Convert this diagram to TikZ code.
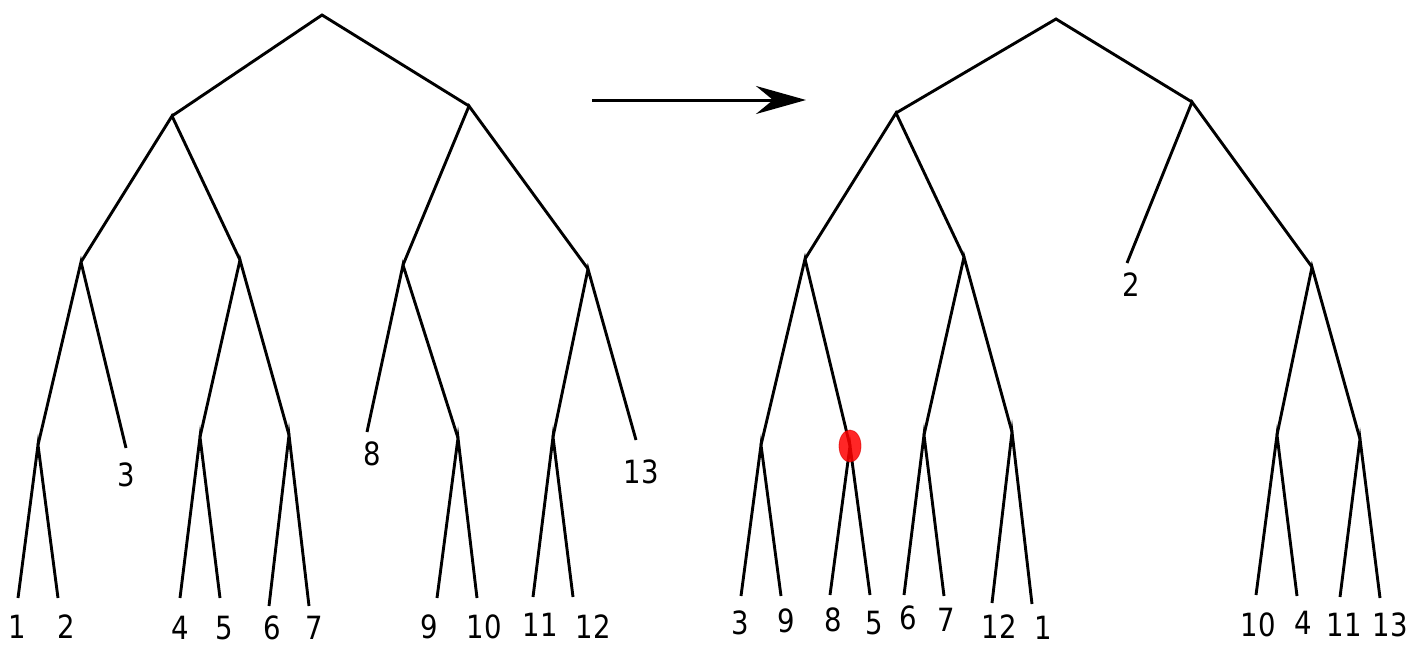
\documentclass[tikz,border=0pt]{standalone}
\usepackage{fontspec}
\setmainfont{DejaVu Sans}
\usetikzlibrary{arrows.meta}
% leaf numbers are set slightly narrower than the font's natural width
\newcommand\leafnum[1]{\scalebox{0.86}[1]{#1}}
\begin{document}
\begin{tikzpicture}[x=1pt,y=-1pt,
  edge/.style={line width=2.9pt, line join=miter, line cap=butt},
  lbl/.style={inner sep=0pt, font=\fontsize{32}{32}\selectfont},
  marker/.style={fill=red, fill opacity=0.85, draw=red!85!black, draw opacity=0.6, line width=0.8pt}]
\useasboundingbox (0,0) rectangle (1412,645);

% ---------------- first tree ----------------
\coordinate (R)  at (322,15);
\coordinate (A)  at (172,116);
\coordinate (B)  at (469,106);
\coordinate (C)  at (81,262);
\coordinate (D)  at (240,260);
\coordinate (E)  at (403,265);
\coordinate (F)  at (588,269);
\coordinate (G)  at (38,445);
\coordinate (H)  at (200,437);
\coordinate (I)  at (289,435);
\coordinate (J)  at (458,438);
\coordinate (K)  at (553,437);
% leaf ends
\coordinate (l1)  at (18,598);
\coordinate (l2)  at (58,598);
\coordinate (l3)  at (126,448);
\coordinate (l4)  at (180,598);
\coordinate (l5)  at (220,598);
\coordinate (l6)  at (269,606);
\coordinate (l7)  at (309,606);
\coordinate (l8)  at (367,432);
\coordinate (l9)  at (437,598);
\coordinate (l10) at (477,598);
\coordinate (l11) at (533,597);
\coordinate (l12) at (573,597);
\coordinate (l13) at (636,440);

\draw[edge] (A) -- (R) -- (B);
\draw[edge] (C) -- (A) -- (D);
\draw[edge] (E) -- (B) -- (F);
\draw[edge] (G) -- (C) -- (l3);
\draw[edge] (H) -- (D) -- (I);
\draw[edge] (l8) -- (E) -- (J);
\draw[edge] (K) -- (F) -- (l13);
\draw[edge] (l1) -- (G) -- (l2);
\draw[edge] (l4) -- (H) -- (l5);
\draw[edge] (l6) -- (I) -- (l7);
\draw[edge] (l9) -- (J) -- (l10);
\draw[edge] (l11) -- (K) -- (l12);

\node[lbl] (t1)  at (17,627)  {\leafnum{1}};
\node[lbl] (t2)  at (66,627)  {\leafnum{2}};
\node[lbl] (t3)  at (126,475) {\leafnum{3}};
\node[lbl] (t4)  at (180,628) {\leafnum{4}};
\node[lbl] (t5)  at (224,628) {\leafnum{5}};
\node[lbl] (t6)  at (272,628) {\leafnum{6}};
\node[lbl] (t7)  at (314,627.5) {\leafnum{7}};
\node[lbl] (t8)  at (372,454) {\leafnum{8}};
\node[lbl] (t9)  at (429,627) {\leafnum{9}};
\node[lbl] (t10) at (484,627) {\leafnum{10}};
\node[lbl] (t11) at (540,625) {\leafnum{11}};
\node[lbl] (t12) at (593,627) {\leafnum{12}};
\node[lbl] (t13) at (641,472) {\leafnum{13}};

% ---------------- transformation arrow ----------------
\coordinate (ar0) at (592,100);
\coordinate (ar1) at (806,100);
\draw[line width=3pt, -{Stealth[length=50pt, width=28pt, inset=17pt]}] (ar0) -- (ar1);

% ---------------- second tree ----------------
\coordinate (R')  at (1056,19);
\coordinate (A')  at (896,113);
\coordinate (B')  at (1192,102);
\coordinate (C')  at (805,259);
\coordinate (D')  at (964,257);
\coordinate (F')  at (1312,267);
\coordinate (G')  at (761,445);
\coordinate (H')  at (850,446);
\coordinate (I')  at (924,435);
\coordinate (J')  at (1012,432);
\coordinate (K')  at (1277,435);
\coordinate (L')  at (1360,439);
% leaf ends
\coordinate (m2)  at (1127,263);
\coordinate (m3)  at (741,596);
\coordinate (m9)  at (781,596);
\coordinate (m8)  at (830,595);
\coordinate (m5)  at (870,595);
\coordinate (m6)  at (904,595);
\coordinate (m7)  at (944,596);
\coordinate (m12) at (992,603);
\coordinate (m1)  at (1032,604);
\coordinate (m10) at (1256,595);
\coordinate (m4)  at (1297,596);
\coordinate (m11) at (1340,597);
\coordinate (m13) at (1380,598);

\draw[edge] (A') -- (R') -- (B');
\draw[edge] (C') -- (A') -- (D');
\draw[edge] (m2) -- (B') -- (F');
\draw[edge] (G') -- (C') -- (H');
\draw[edge] (I') -- (D') -- (J');
\draw[edge] (K') -- (F') -- (L');
\draw[edge] (m3) -- (G') -- (m9);
\draw[edge] (m8) -- (H') -- (m5);
\draw[edge] (m6) -- (I') -- (m7);
\draw[edge] (m12) -- (J') -- (m1);
\draw[edge] (m10) -- (K') -- (m4);
\draw[edge] (m11) -- (L') -- (m13);

% highlighted vertex
\path[marker] (H') ellipse [x radius=11, y radius=16];

\node[lbl] (u2)  at (1131,285) {\leafnum{2}};
\node[lbl] (u3)  at (740,623)  {\leafnum{3}};
\node[lbl] (u9)  at (786,621)  {\leafnum{9}};
\node[lbl] (u8)  at (833,620)  {\leafnum{8}};
\node[lbl] (u5)  at (874,623)  {\leafnum{5}};
\node[lbl] (u6)  at (908,618)  {\leafnum{6}};
\node[lbl] (u7)  at (946,620)  {\leafnum{7}};
\node[lbl] (u12) at (999,627)  {\leafnum{12}};
\node[lbl] (u1)  at (1043,628) {\leafnum{1}};
\node[lbl] (u10) at (1258,625) {\leafnum{10}};
\node[lbl] (u4)  at (1303,623) {\leafnum{4}};
\node[lbl] (u11) at (1344,625) {\leafnum{11}};
\node[lbl] (u13) at (1390,625) {\leafnum{13}};
\end{tikzpicture}
\end{document}
